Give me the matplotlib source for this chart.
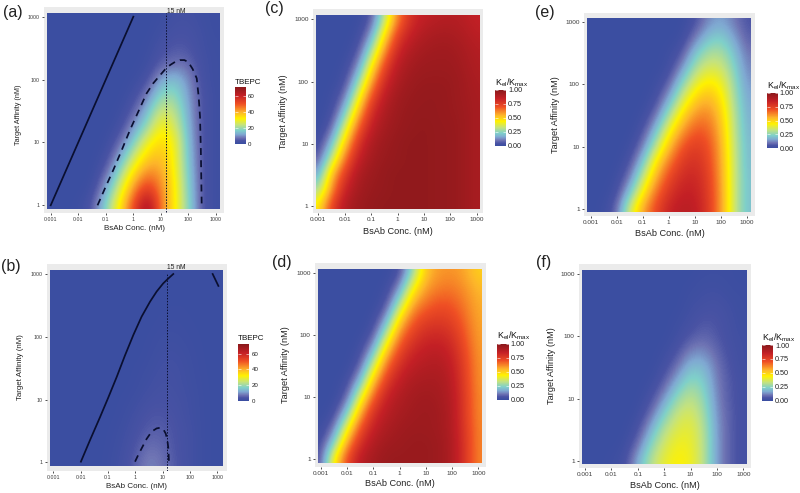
import numpy as np
import matplotlib
matplotlib.use("Agg")
import matplotlib.pyplot as plt
from matplotlib.colors import LinearSegmentedColormap
from matplotlib.patches import Rectangle

plt.rcParams['font.family'] = ['Liberation Sans', 'DejaVu Sans']
plt.rcParams['mathtext.default'] = 'regular'

W, H = 800, 493

log_conc = [-3, -2.5, -2, -1.5, -1, -0.5, 0, 0.5, 1, 1.5, 2, 2.5, 3]
log_aff = [0, 0.25, 0.5, 0.75, 1, 1.25, 1.5, 1.75, 2, 2.25, 2.5, 2.75, 3]
x_tick_vals = [-3, -2, -1, 0, 1, 2, 3]
x_tick_labels = ['0.001', '0.01', '0.1', '1', '10', '100', '1000']
y_tick_vals = [0, 1, 2, 3]
y_tick_labels = ['1', '10', '100', '1000']

tbepc_a = [
    [0, 0, .5, 4, 18, 33, 52, 70, 45, 32, 17, 3, 1],
    [0, 0, 0, 1, 12, 27, 44, 57, 44, 32, 16, 3, 1],
    [0, 0, 0, 0, 6, 20, 35, 46, 42, 31, 15, 3, 1],
    [0, 0, 0, 0, 2, 12, 26, 37, 39, 30, 14, 3, 1],
    [0, 0, 0, 0, .5, 6, 17, 30, 36, 30, 13, 3, 1],
    [0, 0, 0, 0, 0, 2, 10, 20, 32, 26, 12, 3, 1],
    [0, 0, 0, 0, 0, .5, 5, 14, 26, 23, 11, 3, 1],
    [0, 0, 0, 0, 0, 0, 2, 8, 19, 19, 10, 3, 1],
    [0, 0, 0, 0, 0, 0, .5, 3, 12, 15, 9, 2, 1],
    [0, 0, 0, 0, 0, 0, 0, 1, 5, 7, 6, 2, 1],
    [0, 0, 0, 0, 0, 0, 0, .5, 3, 4.5, 4, 1.5, 1],
    [0, 0, 0, 0, 0, 0, 0, 0, 1.5, 3, 3, 1.5, .5],
    [0, 0, 0, 0, 0, 0, 0, 0, .5, 2, 2, 1, .5],
]
tbepc_b = [
    [0, 0, 0, 0, .5, 2, 5, 9, 7, 4, 2, .5, 0],
    [0, 0, 0, 0, .3, 1.5, 4, 7, 6, 3.5, 2, .5, 0],
    [0, 0, 0, 0, .2, 1, 3, 5, 5, 3.5, 2, .5, 0],
    [0, 0, 0, 0, 0, .5, 2, 4, 4, 3, 1.5, .5, 0],
    [0, 0, 0, 0, 0, .3, 1, 2.5, 3, 2.5, 1.5, .5, 0],
    [0, 0, 0, 0, 0, 0, .5, 1.5, 2.5, 2, 1.2, .4, 0],
    [0, 0, 0, 0, 0, 0, .3, 1, 2, 2, 1, .3, 0],
    [0, 0, 0, 0, 0, 0, 0, .5, 1.5, 1.5, .8, .2, 0],
    [0, 0, 0, 0, 0, 0, 0, .3, 1, 1, .5, .2, 0],
    [0, 0, 0, 0, 0, 0, 0, 0, .5, .6, .3, .1, 0],
    [0, 0, 0, 0, 0, 0, 0, 0, .2, .3, .2, 0, 0],
    [0, 0, 0, 0, 0, 0, 0, 0, 0, .1, .1, 0, 0],
    [0, 0, 0, 0, 0, 0, 0, 0, 0, 0, 0, 0, 0],
]
kel_c = [
    [.45, .74, .90, .95, .97, .98, .98, .98, .98, .97, .97, .95, .92],
    [.28, .60, .84, .93, .96, .97, .98, .98, .98, .97, .97, .95, .92],
    [.15, .53, .76, .91, .95, .97, .98, .98, .98, .97, .97, .95, .92],
    [.06, .32, .64, .85, .93, .96, .97, .98, .98, .97, .97, .95, .92],
    [.02, .18, .50, .78, .91, .95, .97, .98, .98, .97, .97, .95, .92],
    [0, .07, .35, .67, .86, .93, .96, .97, .98, .97, .97, .95, .92],
    [0, .02, .20, .53, .80, .91, .95, .97, .97, .97, .96, .95, .92],
    [0, .01, .09, .38, .70, .87, .94, .96, .97, .97, .96, .94, .92],
    [0, 0, .03, .23, .56, .81, .91, .95, .96, .96, .96, .94, .91],
    [0, 0, .01, .11, .42, .72, .88, .93, .95, .95, .95, .93, .90],
    [0, 0, 0, .04, .26, .59, .82, .90, .93, .94, .94, .92, .89],
    [0, 0, 0, .01, .13, .45, .74, .85, .90, .92, .92, .90, .87],
    [0, 0, 0, 0, .05, .30, .62, .80, .86, .88, .89, .88, .85],
]
kel_d = [
    [.05, .44, .72, .88, .93, .96, .96, .96, .96, .95, .91, .78, .62],
    [.03, .22, .58, .80, .90, .94, .95, .96, .96, .95, .91, .78, .62],
    [.01, .09, .40, .70, .85, .91, .94, .95, .95, .94, .90, .77, .62],
    [0, .02, .20, .55, .79, .88, .92, .94, .95, .94, .90, .76, .61],
    [0, 0, .07, .37, .67, .84, .90, .93, .94, .93, .89, .76, .61],
    [0, 0, .02, .18, .52, .76, .86, .91, .92, .92, .88, .75, .60],
    [0, 0, 0, .06, .34, .65, .80, .87, .89, .90, .86, .74, .60],
    [0, 0, 0, .02, .16, .50, .72, .82, .86, .87, .83, .72, .59],
    [0, 0, 0, 0, .05, .31, .62, .75, .81, .82, .79, .69, .58],
    [0, 0, 0, 0, .01, .14, .47, .67, .74, .76, .74, .66, .57],
    [0, 0, 0, 0, 0, .04, .28, .56, .65, .70, .69, .63, .56],
    [0, 0, 0, 0, 0, .01, .12, .42, .58, .63, .64, .60, .54],
    [0, 0, 0, 0, 0, 0, .03, .25, .52, .59, .60, .57, .50],
]
kel_e = [
    [0, .01, .08, .35, .57, .72, .84, .88, .87, .78, .60, .35, .20],
    [0, 0, .03, .20, .44, .65, .78, .85, .85, .77, .60, .35, .20],
    [0, 0, .01, .10, .32, .55, .72, .81, .83, .76, .59, .35, .20],
    [0, 0, 0, .04, .20, .45, .63, .76, .80, .74, .58, .35, .19],
    [0, 0, 0, .01, .10, .31, .52, .69, .76, .72, .57, .34, .19],
    [0, 0, 0, 0, .04, .19, .41, .58, .69, .68, .55, .33, .18],
    [0, 0, 0, 0, .01, .09, .28, .47, .60, .63, .52, .32, .17],
    [0, 0, 0, 0, 0, .03, .16, .35, .50, .56, .48, .30, .16],
    [0, 0, 0, 0, 0, .01, .07, .24, .39, .47, .43, .28, .14],
    [0, 0, 0, 0, 0, 0, .02, .13, .29, .37, .36, .25, .12],
    [0, 0, 0, 0, 0, 0, .01, .05, .20, .29, .30, .21, .10],
    [0, 0, 0, 0, 0, 0, 0, .01, .10, .20, .23, .16, .07],
    [0, 0, 0, 0, 0, 0, 0, 0, .04, .12, .16, .11, .05],
]
kel_f = [
    [0, 0, .01, .03, .17, .31, .40, .44, .42, .32, .14, .07, .03],
    [0, 0, 0, .01, .09, .25, .36, .42, .41, .32, .14, .07, .03],
    [0, 0, 0, 0, .04, .17, .31, .38, .40, .31, .14, .07, .03],
    [0, 0, 0, 0, .01, .09, .23, .34, .37, .29, .13, .07, .03],
    [0, 0, 0, 0, 0, .04, .14, .27, .33, .26, .12, .06, .03],
    [0, 0, 0, 0, 0, .01, .07, .18, .27, .23, .11, .06, .03],
    [0, 0, 0, 0, 0, 0, .03, .10, .20, .19, .10, .05, .02],
    [0, 0, 0, 0, 0, 0, .01, .05, .12, .13, .08, .04, .02],
    [0, 0, 0, 0, 0, 0, 0, .02, .06, .08, .06, .03, .02],
    [0, 0, 0, 0, 0, 0, 0, .01, .03, .06, .05, .03, .01],
    [0, 0, 0, 0, 0, 0, 0, 0, .02, .03, .04, .02, .01],
    [0, 0, 0, 0, 0, 0, 0, 0, .01, .02, .02, .01, .01],
    [0, 0, 0, 0, 0, 0, 0, 0, 0, .01, .01, .01, 0],
]

# contour traces, log10 coordinates (conc, affinity)
a_solid_x = [-3, 0]
a_solid_y = [0, 3]
a_dash_x = [-1.30, -1.03, -0.73, -0.42, -0.12, 0.18, 0.48, 0.72, 0.97, 1.15, 1.33, 1.51, 1.69, 1.85, 1.99,
            2.15, 2.30, 2.37, 2.42, 2.45, 2.48]
a_dash_y = [0, 0.27, 0.56, 0.88, 1.20, 1.49, 1.78, 1.94, 2.07, 2.16, 2.23, 2.28, 2.31, 2.31, 2.28,
            2.17, 2.02, 1.73, 1.41, 0.88, 0.03]
b_solid_x = [-1.99, -1.66, -1.29, -0.99, -0.68, -0.38, -0.07, 0.23, 0.54, 0.78, 1.02, 1.21, 1.39]
b_solid_y = [0.01, 0.35, 0.72, 1.03, 1.36, 1.70, 2.03, 2.32, 2.56, 2.72, 2.85, 2.93, 3.0]
b_solid2_x = [2.83, 3.04]
b_solid2_y = [3.0, 2.81]
b_dash_x = [-0.01, 0.11, 0.23, 0.41, 0.60, 0.78, 0.90, 1.02, 1.11, 1.17, 1.21, 1.23]
b_dash_y = [0.01, 0.12, 0.22, 0.37, 0.49, 0.54, 0.55, 0.53, 0.46, 0.36, 0.22, 0.01]
ref_conc = 15

cmap = LinearSegmentedColormap.from_list('kel', [
    (0.00, '#3b4ea1'), (0.05, '#4a53a4'), (0.10, '#6f74b4'), (0.16, '#7fa9d2'),
    (0.23, '#7fd0ca'), (0.33, '#c5e37e'), (0.44, '#fff200'), (0.55, '#fdb52a'),
    (0.70, '#ef4f24'), (0.85, '#c42026'), (1.00, '#8a191b')])

fig = plt.figure(figsize=(W / 100, H / 100), dpi=100, facecolor='white')


def panel(z, vmax, cbticks, cblabels, cbtitle, letter, bg, heat, xt, yt, cb, letter_xy,
          xlab_y, ylab_x, ylab_yc, fs_xlab, fs_ylab, fs_tick, fs_cb, fs_title, cbtitle_y):
    x0, x1, y0, y1 = bg
    ax = fig.add_axes([x0 / W, 1 - y1 / H, (x1 - x0) / W, (y1 - y0) / H], facecolor='#ebebeb')
    sx = (xt[1] - xt[0]) / 6
    sy = (yt[0] - yt[1]) / 3  # px per decade; yt = (pixel of 1, pixel of 1000)
    ax.set_xlim(-3 + (x0 - xt[0]) / sx, -3 + (x1 - xt[0]) / sx)
    ax.set_ylim((yt[0] - y1) / sy, (yt[0] - y0) / sy)
    im = ax.imshow(np.array(z, dtype=float), origin='lower', cmap=cmap, vmin=0, vmax=vmax,
                   extent=[-3.25, 3.25, -0.125, 3.125], aspect='auto', interpolation='bicubic')
    hx0, hx1 = -3 + (heat[0] - xt[0]) / sx, -3 + (heat[1] - xt[0]) / sx
    hy0, hy1 = (yt[0] - heat[3]) / sy, (yt[0] - heat[2]) / sy
    im.set_clip_path(Rectangle((hx0, hy0), hx1 - hx0, hy1 - hy0, transform=ax.transData))
    ax.set_xticks(x_tick_vals, x_tick_labels)
    ax.set_yticks(y_tick_vals, y_tick_labels)
    ax.tick_params(length=1.5, width=0.6, labelsize=fs_tick, pad=1.5, color='#333333', labelcolor='#3a3a3a')
    for s in ax.spines.values():
        s.set_visible(False)
    fig.text((x0 + x1) / 2 / W, 1 - xlab_y / H, 'BsAb Conc. (nM)', ha='center', va='center',
             fontsize=fs_xlab, color='#222222')
    fig.text(ylab_x / W, 1 - ylab_yc / H, 'Target Affinity (nM)', ha='center', va='center',
             rotation=90, fontsize=fs_ylab, color='#222222')
    fig.text(letter_xy[0] / W, 1 - letter_xy[1] / H, letter, ha='left', va='center', fontsize=11.5, color='#222222')
    cx0, cx1, cy0, cy1 = cb
    cax = fig.add_axes([cx0 / W, 1 - cy1 / H, (cx1 - cx0) / W, (cy1 - cy0) / H])
    cbar = fig.colorbar(im, cax=cax)
    cbar.outline.set_visible(False)
    cbar.set_ticks(cbticks, labels=cblabels)
    cax.tick_params(left=True, right=True, direction='in', color='white', length=2, width=0.4,
                    labelsize=fs_cb, pad=1.5, labelcolor='#222222')
    fig.text(cx0 / W, 1 - cbtitle_y / H, cbtitle, ha='left', va='center', fontsize=fs_title, color='#111111')
    return ax


t_ticks, t_labels = [0, 20, 40, 60], ['0', '20', '40', '60']
k_ticks, k_labels = [0, .25, .5, .75, 1], ['0.00', '0.25', '0.50', '0.75', '1.00']
k_title = 'K$_{el}$/K$_{max}$'

ax_a = panel(tbepc_a, 72, t_ticks, t_labels, 'TBEPC', '(a)', (44, 224, 7, 213), (47, 219, 13, 209),
             (50.7, 216), (205.3, 16.7), (235, 246, 87, 143.5), (3, 12), 229, 18, 115, 5.8, 5.2, 3.8, 4.4, 5.8, 82)
ax_b = panel(tbepc_b, 72, t_ticks, t_labels, 'TBEPC', '(b)', (47, 227, 264, 471), (50, 222.7, 270, 465.7),
             (53.3, 217.3), (462.3, 274), (238, 249.3, 344.3, 400.7), (1, 266), 486, 21, 367, 5.8, 5.7, 3.8, 4.4, 5.8, 339)
ax_c = panel(kel_c, 1, k_ticks, k_labels, k_title, '(c)', (312.7, 483.3, 9, 213), (316, 480, 15, 209.3),
             (318.3, 476.7), (206, 19.3), (495, 506, 90, 146), (265, 9), 231, 284, 112, 6.6, 6.4, 4.6, 5.2, 6.4, 83)
ax_d = panel(kel_d, 1, k_ticks, k_labels, k_title, '(d)', (315, 485.7, 263, 467), (318.3, 482.3, 269, 463.3),
             (321, 478.3), (459.3, 272.7), (497, 508.7, 344, 399.7), (272, 262), 484, 286, 365, 6.6, 6.6, 4.6, 5.2, 6.4, 336)
ax_e = panel(kel_e, 1, k_ticks, k_labels, k_title, '(e)', (584, 755, 12.7, 216), (587.3, 751, 18.3, 212.3),
             (590.7, 746.7), (209, 21.7), (766.7, 777.7, 92.7, 148.3), (535, 12), 234, 556, 115, 6.6, 6.6, 4.6, 5.2, 6.4, 86)
ax_f = panel(kel_f, 1, k_ticks, k_labels, k_title, '(f)', (579, 750.7, 264, 468), (582.3, 746.7, 270, 464.3),
             (585, 743.3), (461, 274), (761.7, 773, 345, 400.7), (536, 263), 486, 551, 366, 6.6, 6.6, 4.6, 5.2, 6.4, 338)

lw = 1.25
line_col = '#0a0f30'
ref = np.log10(ref_conc)
ax_a.plot(a_solid_x, a_solid_y, color=line_col, lw=lw)
ax_a.plot(a_dash_x, a_dash_y, color=line_col, lw=lw, ls=(0, (4, 3)))
ax_a.plot([ref, ref], [-0.1, 3.06], color=line_col, lw=0.7, ls=(0, (1.5, 1.5)))
ax_a.text(ref + 0.03, 3.09, '15 nM', fontsize=4.8, ha='left', va='center', color='#222222')
ax_b.plot(b_solid_x, b_solid_y, color=line_col, lw=lw)
ax_b.plot(b_solid2_x, b_solid2_y, color=line_col, lw=lw)
ax_b.plot(b_dash_x, b_dash_y, color=line_col, lw=lw, ls=(0, (4, 3)))
ax_b.plot([ref, ref], [-0.14, 3.0], color=line_col, lw=0.7, ls=(0, (1.5, 1.5)))
ax_b.text(ref + 0.0, 3.1, '15 nM', fontsize=4.8, ha='left', va='center', color='#222222')

fig.savefig('out.png', dpi=100)
